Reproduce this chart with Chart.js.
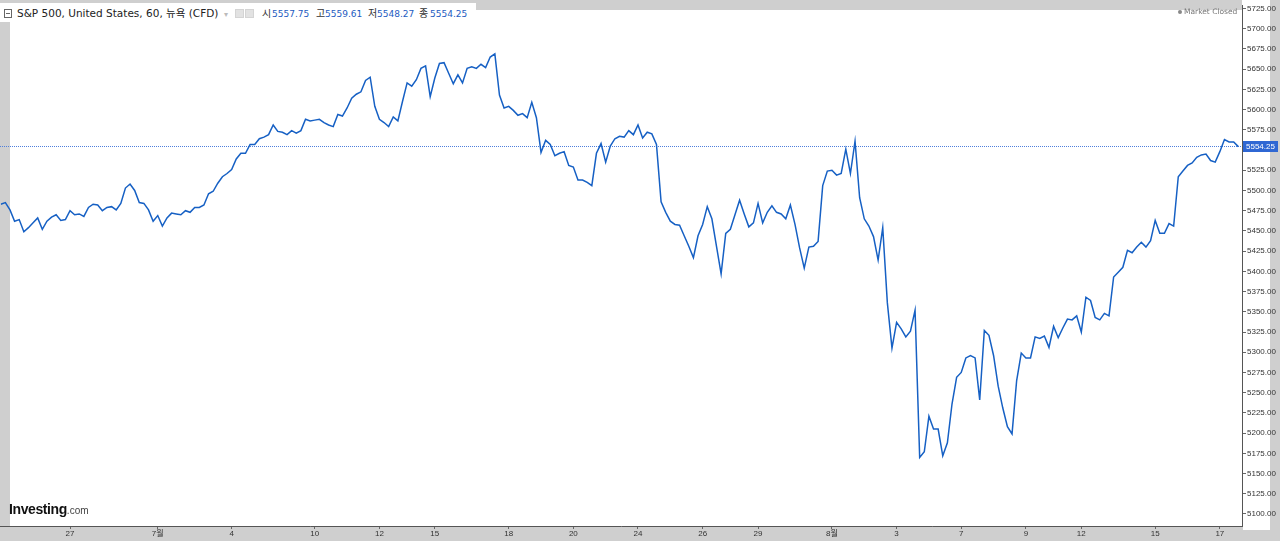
<!DOCTYPE html>
<html>
<head>
<meta charset="utf-8">
<script src="https://cdn.jsdelivr.net/npm/chart.js@4.4.1/dist/chart.umd.min.js"></script>
<style>
  html, body { margin: 0; padding: 0; background: #fff; }
  #wrap { position: relative; width: 1280px; height: 541px; overflow: hidden; }
  #chart { position: absolute; left: 0; top: 0; }
  #hdr {
    position: absolute; left: 0; top: 3px; width: 476px; height: 17px; padding-top: 2px; background: #fff;
    display: flex; align-items: baseline; white-space: nowrap; line-height: 19px;
  }
  #hdr > span { flex: none; display: inline-block; }
  .box { position: absolute; left: 4px; top: 9px; width: 6px; height: 7px; border: 1px solid #666; background: #fff; }
  .box::after { content: ''; position: absolute; left: 1px; top: 3px; width: 4px; height: 1px; background: #666; }
  .ttl { font: 10.5px "DejaVu Sans", "Noto Sans CJK KR", sans-serif; color: #222; }
  .k { font: 10px "Noto Sans CJK KR", sans-serif; color: #333; }
  .v { font: 9px "DejaVu Sans", sans-serif; color: #1d5bbf; }
  .arr { font: 8px "DejaVu Sans", sans-serif; color: #bbb; }
  .ico { position: absolute; top: 9px; width: 7px; height: 7px; background: #e2e2e2; border: 1px solid #d4d4d4; }
  #mc { position: absolute; left: 1184px; top: 5px; font: 7.5px "DejaVu Sans", sans-serif; color: #777; line-height: 14px; }
  #mcdot { position: absolute; left: 1178px; top: 10px; width: 4px; height: 4px; border-radius: 2px; background: #888; }
  #logo { position: absolute; left: 9px; top: 500px; line-height: 18px; white-space: nowrap; }
  #logo b { font: bold 14px "Liberation Sans", Arial, sans-serif; color: #111; letter-spacing: -0.4px; }
  #logo span { font: 10px "Liberation Sans", Arial, sans-serif; color: #444; }
</style>
</head>
<body>
<div id="wrap">
  <canvas id="chart" width="1280" height="541"></canvas>
  <div id="hdr">
    <span style="width:17px"></span>
    <span class="ttl" style="width:207px">S&amp;P 500, United States, 60, 뉴욕 (CFD)</span>
    <span class="arr" style="width:38px">▾</span>
    <span class="k" style="width:10px">시</span><span class="v" style="width:44px">5557.75</span>
    <span class="k" style="width:9px">고</span><span class="v" style="width:43px">5559.61</span>
    <span class="k" style="width:9px">저</span><span class="v" style="width:42px">5548.27</span>
    <span class="k" style="width:11px">종</span><span class="v">5554.25</span>
  </div>
  <div class="box"></div>
  <div class="ico" style="left:235px"></div>
  <div class="ico" style="left:245px"></div>
  <div id="mcdot"></div>
  <div id="mc">Market Closed</div>
  <div id="logo"><b>Investing</b><span>.com</span></div>
</div>
<script>
// hourly closes left to right
const closesPart1 = [
  5483, 5485, 5476, 5462, 5464, 5449, 5454, 5460, 5466, 5452,
  5462, 5467, 5470, 5463, 5464, 5475, 5470, 5471, 5468, 5479,
  5483, 5482, 5475, 5479, 5480, 5476, 5484, 5503, 5508, 5500,
  5485, 5484, 5476, 5462, 5469, 5456, 5466, 5472, 5471, 5470,
  5475, 5473, 5479, 5479, 5482, 5496, 5499, 5509, 5517, 5521,
  5526, 5539, 5546, 5546, 5557, 5557, 5564, 5566, 5569, 5581,
  5573, 5572, 5569, 5574, 5571, 5574, 5588, 5586, 5587, 5588
];
const closesPart2 = [
  5584, 5581, 5579, 5594, 5592, 5602, 5614, 5619, 5622, 5636,
  5640, 5604, 5588, 5584, 5579, 5591, 5586, 5610, 5633, 5629,
  5637, 5651, 5654, 5616, 5639, 5657, 5658, 5645, 5632, 5643,
  5633, 5651, 5653, 5651, 5656, 5652, 5665, 5669, 5618, 5602,
  5604, 5599, 5593, 5595, 5590, 5609, 5590, 5547, 5562, 5557,
  5543, 5546, 5548, 5531, 5529, 5513, 5513, 5510, 5506, 5546,
  5558, 5535, 5555, 5564, 5567, 5566, 5574, 5569, 5581
];
const closesPart3 = [
  5565, 5572, 5570, 5557, 5486, 5473, 5462, 5458, 5457, 5444,
  5431, 5417, 5444, 5458, 5480, 5465, 5431, 5397, 5447, 5452,
  5470, 5488, 5471, 5455, 5460, 5484, 5460, 5473, 5481, 5473,
  5471, 5465, 5482, 5458, 5429, 5404, 5430, 5431, 5437, 5506,
  5524, 5525, 5519, 5521, 5551, 5521, 5561, 5491, 5465, 5456,
  5443, 5414
];
const closesPart4 = [
  5454, 5361, 5305, 5337, 5329, 5319, 5326, 5352, 5170, 5177,
  5221, 5205, 5205, 5172, 5188, 5236, 5269, 5275, 5293, 5296,
  5293, 5241, 5327, 5321, 5296, 5258, 5231, 5208, 5199, 5265,
  5299, 5293, 5293, 5319, 5317, 5320, 5306, 5332, 5318, 5330,
  5341, 5340, 5345, 5325, 5368, 5364, 5343, 5340, 5348, 5345,
  5393, 5399, 5405, 5426, 5423, 5430
];
const closesPart5 = [
  5436, 5430, 5438, 5463, 5447, 5447, 5459, 5456, 5517, 5524,
  5531, 5534, 5541, 5544, 5545, 5537, 5535, 5548, 5563, 5560,
  5560, 5554.25
];

// date labels on the time axis and the bar index they sit on
const dateLabels = ['27', '7월', '4', '10', '12', '15', '18', '20', '24', '26', '29', '8월', '3', '7', '9', '12', '15', '17'];
const dateBarIndex = [15, 34, 50, 68, 82, 94, 110, 124, 138, 152, 164, 180, 194, 208, 222, 234, 250, 264];

// price axis
const priceTicks = [];
for (let p = 5100; p <= 5725; p += 25) priceTicks.push(p);
const lastClose = 5554.25;

const closes = [].concat(closesPart1, closesPart2, closesPart3, closesPart4, closesPart5);
const points = closes.map((v, i) => ({ x: i, y: v }));

const GRAY = '#cfcfcf';
const LINE = '#1660c4';
const AXIS_FONT = { family: '"Liberation Sans", Arial, "Noto Sans CJK KR", sans-serif', size: 8 };
// where the lowest and highest price ticks sit on the page
const LOW_TICK_Y = 514;
const HIGH_TICK_Y = 8.5;

const framePlugin = {
  id: 'frame',
  beforeDraw(chart) {
    const c = chart.ctx;
    const a = chart.chartArea;
    c.save();
    c.fillStyle = '#fff';
    c.fillRect(0, 0, chart.width, chart.height);
    c.fillStyle = GRAY;
    c.fillRect(0, 0, a.right, 10);                   // top bar
    c.fillRect(0, 0, 10, a.bottom);                  // left strip
    c.fillRect(0, a.bottom, chart.width, chart.height - a.bottom); // bottom bar
    c.fillRect(1270, 0, 10, chart.height);           // right strip
    c.fillStyle = '#fff';
    c.fillRect(a.right + 1, a.bottom, 1270 - a.right - 1, 4);
    c.restore();
  },
  beforeDatasetsDraw(chart) {
    const c = chart.ctx;
    const a = chart.chartArea;
    const y = Math.round(chart.scales.y.getPixelForValue(lastClose)) - 0.5;
    c.save();
    c.strokeStyle = '#4f7fdc';
    c.lineWidth = 1;
    c.setLineDash([1, 1]);
    c.beginPath();
    c.moveTo(0, y);
    c.lineTo(a.right, y);
    c.stroke();
    c.restore();
  },
  afterDraw(chart) {
    const c = chart.ctx;
    const a = chart.chartArea;
    const y = Math.round(chart.scales.y.getPixelForValue(lastClose)) - 1;
    c.save();
    c.fillStyle = '#2f67d3';
    c.fillRect(a.right + 1, y - 5, 35, 11);
    c.fillStyle = '#fff';
    c.font = '8px "Liberation Sans", Arial, sans-serif';
    c.textBaseline = 'middle';
    c.fillText(lastClose.toFixed(2), a.right + 4, y + 0.5);
    c.restore();
  }
};

const ctx = document.getElementById('chart').getContext('2d');
const chart = new Chart(ctx, {
  type: 'line',
  data: {
    datasets: [{
      data: points,
      borderColor: LINE,
      borderWidth: 1.5,
      pointRadius: 0,
      tension: 0,
      fill: false
    }]
  },
  options: {
    responsive: false,
    animation: false,
    layout: { padding: { top: 3, left: 0, right: 0, bottom: 0 } },
    plugins: { legend: { display: false }, tooltip: { enabled: false } },
    scales: {
      x: {
        type: 'linear',
        min: 0,
        max: 268.8,
        afterBuildTicks: s => { s.ticks = dateBarIndex.map(v => ({ value: v })); },
        afterFit: s => { s.height = 15; },
        grid: { drawOnChartArea: false, drawTicks: true, tickLength: 3, color: '#666' },
        border: { color: '#555', width: 1 },
        ticks: {
          autoSkip: false,
          maxRotation: 0,
          padding: 0,
          color: '#333',
          font: AXIS_FONT,
          callback: v => {
            const i = dateBarIndex.indexOf(v);
            return i >= 0 ? dateLabels[i] : '';
          }
        }
      },
      y: {
        position: 'right',
        min: 5085,
        max: 5732,
        afterBuildTicks: s => { s.ticks = priceTicks.map(v => ({ value: v })); },
        afterFit: s => { s.width = 38; },
        grid: { drawOnChartArea: false, drawTicks: true, tickLength: 4, color: '#666' },
        border: { color: '#555', width: 1 },
        ticks: {
          padding: 1,
          color: '#333',
          font: AXIS_FONT,
          callback: v => v.toFixed(2)
        }
      }
    }
  },
  plugins: [framePlugin]
});

// stretch the price range so the end ticks land where they are in the picture
const lo = priceTicks[0], hi = priceTicks[priceTicks.length - 1];
const perPx = (hi - lo) / (LOW_TICK_Y - HIGH_TICK_Y);
const area = chart.chartArea;
chart.options.scales.y.min = lo - (area.bottom - LOW_TICK_Y) * perPx;
chart.options.scales.y.max = hi + (HIGH_TICK_Y - area.top) * perPx;
chart.update();
</script>
</body>
</html>
